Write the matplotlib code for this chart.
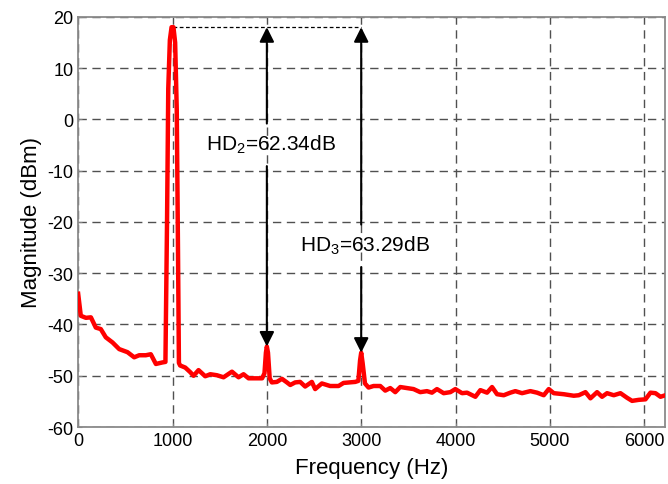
import matplotlib
matplotlib.use("Agg")
import matplotlib.pyplot as plt

plt.rcParams['font.family'] = ['Liberation Sans', 'DejaVu Sans']
plt.rcParams['mathtext.fontset'] = 'custom'
plt.rcParams['mathtext.rm'] = 'Liberation Sans'
plt.rcParams['mathtext.default'] = 'regular'
plt.rcParams['axes.unicode_minus'] = False

# spectrum (Hz, dBm)
freq = [0, 28, 82, 135, 187, 240, 293, 364, 435, 523, 594, 647, 717, 770, 824, 894, 925,
        942, 955, 972, 990, 1010, 1028, 1045, 1058, 1068, 1081, 1135, 1188, 1223, 1276,
        1347, 1400, 1471, 1541, 1630, 1700, 1753, 1806, 1895, 1950, 1975, 1990, 2000,
        2012, 2030, 2053, 2106, 2160, 2213, 2248, 2300, 2353, 2406, 2477, 2512, 2583,
        2671, 2760, 2813, 2937, 2970, 2988, 3000, 3015, 3040, 3078, 3131, 3202, 3255,
        3308, 3361, 3414, 3484, 3555, 3626, 3697, 3750, 3803, 3874, 3945, 3998, 4069,
        4122, 4210, 4263, 4334, 4387, 4440, 4511, 4581, 4634, 4705, 4793, 4864, 4935,
        4988, 5041, 5147, 5253, 5306, 5377, 5430, 5500, 5553, 5606, 5677, 5748, 5818,
        5871, 5942, 6013, 6066, 6119, 6172, 6225]
mag = [-34.0, -38.3, -38.7, -38.6, -40.6, -40.9, -42.5, -43.5, -44.8, -45.4, -46.4, -46.0,
       -46.0, -45.8, -47.7, -47.4, -47.3,
       -20.0, 6.0, 15.5, 18.0, 18.0, 15.0, 2.0, -25.0, -47.5, -48.0, -48.4, -49.3, -50.0,
       -48.9, -50.1, -49.7, -49.9, -50.3, -49.2, -50.3, -49.7, -50.5, -50.5, -50.5,
       -49.5, -45.5, -44.3, -45.5, -50.5, -51.3, -51.2, -50.6, -51.3, -51.8, -51.3,
       -51.2, -52.1, -51.2, -52.6, -51.5, -52.0, -52.0, -51.4, -51.2, -51.0, -47.0,
       -45.5, -47.5, -51.5, -52.3, -52.0, -52.0, -52.9, -52.4, -53.2, -52.2, -52.4,
       -52.6, -53.2, -53.0, -53.3, -52.6, -53.4, -53.2, -52.6, -53.4, -53.3, -54.1,
       -52.8, -53.3, -52.2, -53.6, -53.8, -53.3, -53.0, -53.4, -53.0, -53.3, -53.8,
       -52.6, -53.4, -53.6, -53.9, -53.8, -53.2, -54.4, -53.2, -54.1, -53.4, -53.8,
       -53.4, -54.3, -54.9, -54.7, -54.6, -53.3, -53.4, -54.1, -53.8]

fund_level = 18.0
hd_freqs = [2000, 3000]
hd_peaks = [-44.3, -45.5]
hd_labels = ["HD$_2$=62.34dB", "HD$_3$=63.29dB"]
label_y = [-4.8, -24.5]

fig = plt.figure(figsize=(6.68, 4.85), dpi=100)
ax = fig.add_axes([0.117, 0.1175, 0.8785, 0.8455])

ax.plot(freq, mag, color='#ff0000', lw=3.2, zorder=3)

# reference level from the fundamental peak
ax.plot([1000, hd_freqs[-1]], [fund_level, fund_level], color='k', lw=0.9,
        linestyle=(0, (3, 2)), zorder=2)

for f, pk, lab, ty in zip(hd_freqs, hd_peaks, hd_labels, label_y):
    ax.text(f + 40, ty, lab, ha='center', va='center', fontsize=15)
    ax.annotate("", xy=(f, fund_level), xytext=(f, ty + 4),
                arrowprops=dict(arrowstyle='-|>', color='k', lw=1.5, mutation_scale=22,
                                shrinkA=0, shrinkB=0))
    ax.annotate("", xy=(f, pk), xytext=(f, ty - 4.3),
                arrowprops=dict(arrowstyle='-|>', color='k', lw=1.5, mutation_scale=22,
                                shrinkA=0, shrinkB=0))

ax.set_xlim(0, 6220)
ax.set_ylim(-60, 20)
ax.set_xticks(range(0, 6001, 1000))
ax.set_yticks(range(-60, 21, 10))
ax.grid(True, color='#505050', linestyle=(0, (6, 4)), lw=1.0)
ax.tick_params(direction='in', length=3, labelsize=13, color='#808080')
for s in ax.spines.values():
    s.set_color('#8a8a8a')
    s.set_linewidth(1.3)

ax.set_xlabel("Frequency (Hz)", fontsize=16, labelpad=6)
ax.set_ylabel("Magnitude (dBm)", fontsize=16, labelpad=4)

fig.savefig("out.png", dpi=100)
